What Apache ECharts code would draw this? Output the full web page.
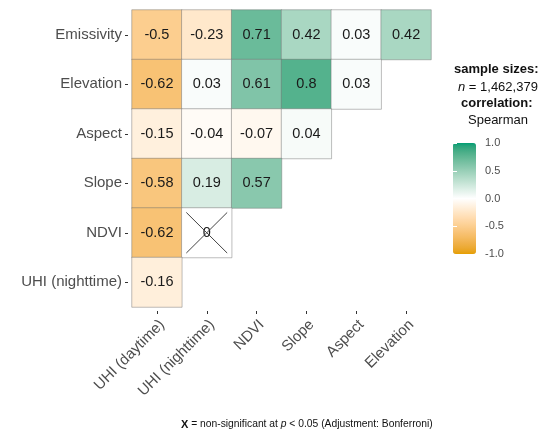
<!DOCTYPE html>
<html>
<head>
<meta charset="utf-8">
<script src="https://cdn.jsdelivr.net/npm/echarts@6/dist/echarts.min.js"></script>
<style>
  html, body { margin: 0; padding: 0; background: #ffffff; }
  #chart { width: 553px; height: 435px; }
</style>
</head>
<body>
<div id="chart"></div>
<script>
// Variables along the bottom and down the left side
const columns = ['UHI (daytime)', 'UHI (nighttime)', 'NDVI', 'Slope', 'Aspect', 'Elevation'];
const rows = ['Emissivity', 'Elevation', 'Aspect', 'Slope', 'NDVI', 'UHI (nighttime)'];

// Lower-triangle Spearman coefficients, one array per row, left to right
const emissivity = [-0.5, -0.23, 0.71, 0.42, 0.03, 0.42];
const elevation = [-0.62, 0.03, 0.61, 0.8, 0.03];
const aspect = [-0.15, -0.04, -0.07, 0.04];
const slope = [-0.58, 0.19, 0.57];
const ndvi = [-0.62, 0];
const uhiNight = [-0.16];
const rowValues = [emissivity, elevation, aspect, slope, ndvi, uhiNight];

// Pairs that are not significant after Bonferroni adjustment: [column, row]
const nonSignificant = [['UHI (nighttime)', 'NDVI']];

const FONT = '"Liberation Sans", Arial, sans-serif';

// Diverging palette low / mid / high, blended in CIE Lab so the ramp stays soft
const paletteStops = ['#E69F00', '#FFFFFF', '#009E73'];

function hexToLab(hex) {
  const n = parseInt(hex.slice(1), 16);
  const lin = c => { c /= 255; return c <= 0.04045 ? c / 12.92 : Math.pow((c + 0.055) / 1.055, 2.4); };
  const r = lin((n >> 16) & 255), g = lin((n >> 8) & 255), b = lin(n & 255);
  const X = (0.4124 * r + 0.3576 * g + 0.1805 * b) / 0.95047;
  const Y = (0.2126 * r + 0.7152 * g + 0.0722 * b);
  const Z = (0.0193 * r + 0.1192 * g + 0.9505 * b) / 1.08883;
  const f = t => t > 0.008856 ? Math.cbrt(t) : 7.787 * t + 16 / 116;
  const fx = f(X), fy = f(Y), fz = f(Z);
  return [116 * fy - 16, 500 * (fx - fy), 200 * (fy - fz)];
}
function labToHex([L, a, bb]) {
  const fy = (L + 16) / 116, fx = fy + a / 500, fz = fy - bb / 200;
  const finv = t => t > 0.206893 ? t * t * t : (t - 16 / 116) / 7.787;
  const X = finv(fx) * 0.95047, Y = finv(fy), Z = finv(fz) * 1.08883;
  let r = 3.2406 * X - 1.5372 * Y - 0.4986 * Z;
  let g = -0.9689 * X + 1.8758 * Y + 0.0415 * Z;
  let b = 0.0557 * X - 0.2040 * Y + 1.0570 * Z;
  const gam = c => {
    c = c <= 0.0031308 ? 12.92 * c : 1.055 * Math.pow(c, 1 / 2.4) - 0.055;
    return Math.max(0, Math.min(255, Math.round(c * 255)));
  };
  return '#' + [gam(r), gam(g), gam(b)].map(v => v.toString(16).padStart(2, '0')).join('');
}
function labRamp(stops, steps) {
  const labs = stops.map(hexToLab);
  const out = [];
  const segs = labs.length - 1;
  for (let i = 0; i <= steps; i++) {
    const t = i / steps * segs;
    const k = Math.min(segs - 1, Math.floor(t));
    const u = t - k;
    out.push(labToHex(labs[k].map((v, j) => v + (labs[k + 1][j] - v) * u)));
  }
  return out;
}
const rampColors = labRamp(paletteStops, 40);

const heatData = [];
rowValues.forEach((vals, r) => vals.forEach((v, c) => heatData.push([c, r, v])));
const crossData = nonSignificant.map(([c, r]) => [columns.indexOf(c), rows.indexOf(r)]);

const chart = echarts.init(document.getElementById('chart'), null, { renderer: 'canvas' });

chart.setOption({
  backgroundColor: '#ffffff',
  animation: false,
  textStyle: { fontFamily: FONT },
  grid: [
    { left: 132, top: 10, width: 299, height: 297 },
    { left: 453, top: 143, width: 23, height: 111 }
  ],
  xAxis: [
    {
      type: 'category', data: columns, gridIndex: 0, position: 'bottom', offset: 4,
      axisLine: { show: false },
      axisTick: { show: true, alignWithLabel: true, length: 3, lineStyle: { color: '#333333', width: 1 } },
      axisLabel: { rotate: 45, margin: 6, fontSize: 15, color: '#4d4d4d', fontFamily: FONT, interval: 0,
        align: 'right', verticalAlign: 'top', overflow: 'none' },
      splitLine: { show: false }
    },
    { type: 'value', gridIndex: 1, show: false, min: 0, max: 1 }
  ],
  yAxis: [
    {
      type: 'category', data: rows, gridIndex: 0, inverse: true, offset: 4,
      axisLine: { show: false },
      axisTick: { show: true, alignWithLabel: true, length: 3, lineStyle: { color: '#333333', width: 1 } },
      axisLabel: { margin: 6, fontSize: 15, color: '#4d4d4d', fontFamily: FONT, interval: 0 },
      splitLine: { show: false }
    },
    {
      type: 'value', gridIndex: 1, position: 'right', min: -1, max: 1, interval: 0.5, z: 10,
      axisLine: { show: false },
      axisTick: { show: true, inside: true, length: 4, lineStyle: { color: '#ffffff', width: 1 } },
      axisLabel: { margin: 9, fontSize: 11, color: '#4d4d4d', fontFamily: FONT,
        formatter: v => v.toFixed(1) },
      splitLine: { show: false }
    },
    {
      type: 'value', gridIndex: 1, position: 'left', min: -1, max: 1, interval: 0.5, z: 10,
      axisLine: { show: false },
      axisTick: { show: true, inside: true, length: 4, lineStyle: { color: '#ffffff', width: 1 } },
      axisLabel: { show: false },
      splitLine: { show: false }
    }
  ],
  visualMap: {
    type: 'continuous', seriesIndex: 0, min: -1, max: 1,
    left: 453, top: 143, itemWidth: 23, itemHeight: 111, padding: 0,
    calculable: false, text: null, showLabel: false,
    inRange: { color: rampColors }
  },
  series: [
    {
      type: 'heatmap', xAxisIndex: 0, yAxisIndex: 0, data: heatData,
      itemStyle: { borderColor: 'rgba(110,110,110,0.45)', borderWidth: 1 },
      label: {
        show: true, fontSize: 14.5, color: '#1a1a1a', fontFamily: FONT,
        formatter: p => String(p.value[2])
      },
      emphasis: { disabled: true }
    },
    {
      type: 'custom', xAxisIndex: 0, yAxisIndex: 0, data: crossData, z: 5, silent: true,
      renderItem(params, api) {
        const c = api.coord([api.value(0), api.value(1)]);
        const s = api.size([1, 1]);
        const hw = s[0] * 0.41, hh = s[1] * 0.41;
        const st = { stroke: '#444444', lineWidth: 1 };
        return {
          type: 'group',
          children: [
            { type: 'line', shape: { x1: c[0] - hw, y1: c[1] - hh, x2: c[0] + hw, y2: c[1] + hh }, style: st },
            { type: 'line', shape: { x1: c[0] - hw, y1: c[1] + hh, x2: c[0] + hw, y2: c[1] - hh }, style: st }
          ]
        };
      }
    }
  ],
  graphic: [
    { type: 'text', left: 454, top: 63,
      style: { text: 'sample sizes:', font: 'bold 13px ' + FONT, fill: '#111111' } },
    { type: 'text', left: 458, top: 81,
      style: { text: '{i|n} = 1,462,379', font: '13px ' + FONT, fill: '#111111',
        rich: { i: { fontStyle: 'italic', fontSize: 13, fontFamily: FONT, fill: '#111111' } } } },
    { type: 'text', left: 461, top: 97,
      style: { text: 'correlation:', font: 'bold 13px ' + FONT, fill: '#111111' } },
    { type: 'text', left: 468, top: 114,
      style: { text: 'Spearman', font: '13px ' + FONT, fill: '#111111' } },
    { type: 'text', left: 181, top: 419,
      style: { text: '{b|X} = non-significant at {i|p} < 0.05 (Adjustment: Bonferroni)',
        font: '10.3px ' + FONT, fill: '#111111',
        rich: {
          b: { fontWeight: 'bold', fontSize: 11, fontFamily: FONT, fill: '#111111' },
          i: { fontStyle: 'italic', fontSize: 10.3, fontFamily: FONT, fill: '#111111' }
        } } }
  ]
});
</script>
</body>
</html>
